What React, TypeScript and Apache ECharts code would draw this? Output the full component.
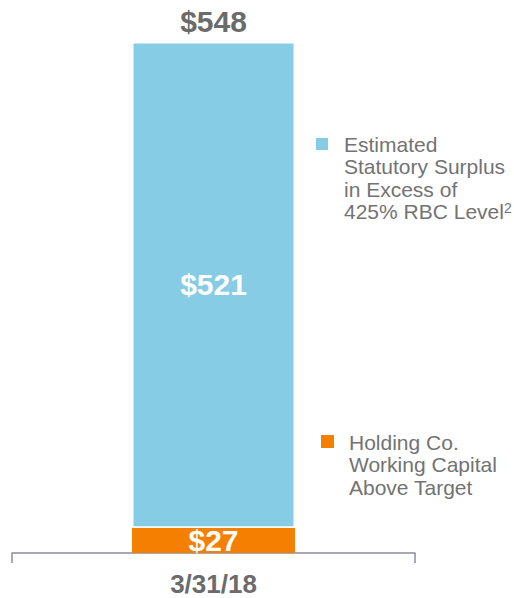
import React, { useEffect, useRef } from "react";
import * as echarts from "echarts";

const categories = ["3/31/18"];
const holdingCo = [27];
const statutorySurplus = [521];
const seriesNames = [
  "Holding Co.\nWorking Capital\nAbove Target",
  "Estimated\nStatutory Surplus\nin Excess of\n425% RBC Level",
];

export default function App() {
  const ref = useRef<HTMLDivElement>(null);
  useEffect(() => {
    if (!ref.current) return;
    const chart = echarts.init(ref.current, null, { renderer: "svg" });
    const totals = categories.map((_, i) => holdingCo[i] + statutorySurplus[i]);
    const font = "'Liberation Sans', Arial, sans-serif";
    const valueLabel = (color: string) => ({
      show: true,
      position: "inside" as const,
      color,
      fontFamily: font,
      fontWeight: "bold" as const,
      fontSize: 30,
      formatter: (p: any) => "$" + p.value,
    });
    chart.setOption({
      animation: false,
      grid: { left: 12, right: 99, top: 42, bottom: 45 },
      xAxis: {
        type: "category",
        data: categories,
        axisLine: { lineStyle: { color: "#8a8c9c", width: 1.5 } },
        axisTick: { show: true, length: 10, lineStyle: { color: "#8a8c9c", width: 1.5 } },
        axisLabel: {
          color: "#6b6b6b",
          fontFamily: font,
          fontWeight: "bold",
          fontSize: 26,
          margin: 18,
        },
      },
      yAxis: {
        type: "value",
        min: 0,
        max: 548,
        show: false,
        splitLine: { show: false },
      },
      series: [
        {
          name: seriesNames[0],
          type: "bar",
          stack: "total",
          data: holdingCo,
          barWidth: 163,
          itemStyle: { color: "#F47F00" },
          label: valueLabel("#ffffff"),
        },
        {
          name: seriesNames[1],
          type: "bar",
          stack: "total",
          data: statutorySurplus,
          barWidth: 164,
          itemStyle: { color: "#87CCE5", borderColor: "#ffffff", borderWidth: 1.5 },
          label: valueLabel("#ffffff"),
        },
        {
          name: "total",
          type: "bar",
          stack: "total",
          data: totals.map(() => 0),
          barWidth: 163,
          itemStyle: { color: "transparent" },
          label: {
            show: true,
            position: "top",
            distance: 6,
            color: "#6b6b6b",
            fontFamily: font,
            fontWeight: "bold",
            fontSize: 30,
            formatter: (p: any) => "$" + totals[p.dataIndex],
          },
        },
      ],
      graphic: [
        { type: "rect", left: 316, top: 138, shape: { width: 12, height: 12 }, style: { fill: "#87CCE5" } },
        {
          type: "text",
          left: 344,
          top: 133,
          style: {
            text: "Estimated\nStatutory Surplus\nin Excess of\n425% RBC Level{sup|2}",
            fill: "#737373",
            font: `21px ${font}`,
            lineHeight: 22.5,
            rich: {
              sup: { fontSize: 14, fill: "#737373", verticalAlign: "top", padding: [0, 0, 8, 0], fontFamily: font },
            },
          },
        },
        { type: "rect", left: 321, top: 435, shape: { width: 13, height: 13 }, style: { fill: "#F47F00" } },
        {
          type: "text",
          left: 349,
          top: 431,
          style: {
            text: "Holding Co.\nWorking Capital\nAbove Target",
            fill: "#737373",
            font: `21px ${font}`,
            lineHeight: 22.5,
          },
        },
      ],
    });
    return () => chart.dispose();
  }, []);
  return <div ref={ref} style={{ width: 514, height: 598, position: "absolute", left: 0, top: 0 }} />;
}
